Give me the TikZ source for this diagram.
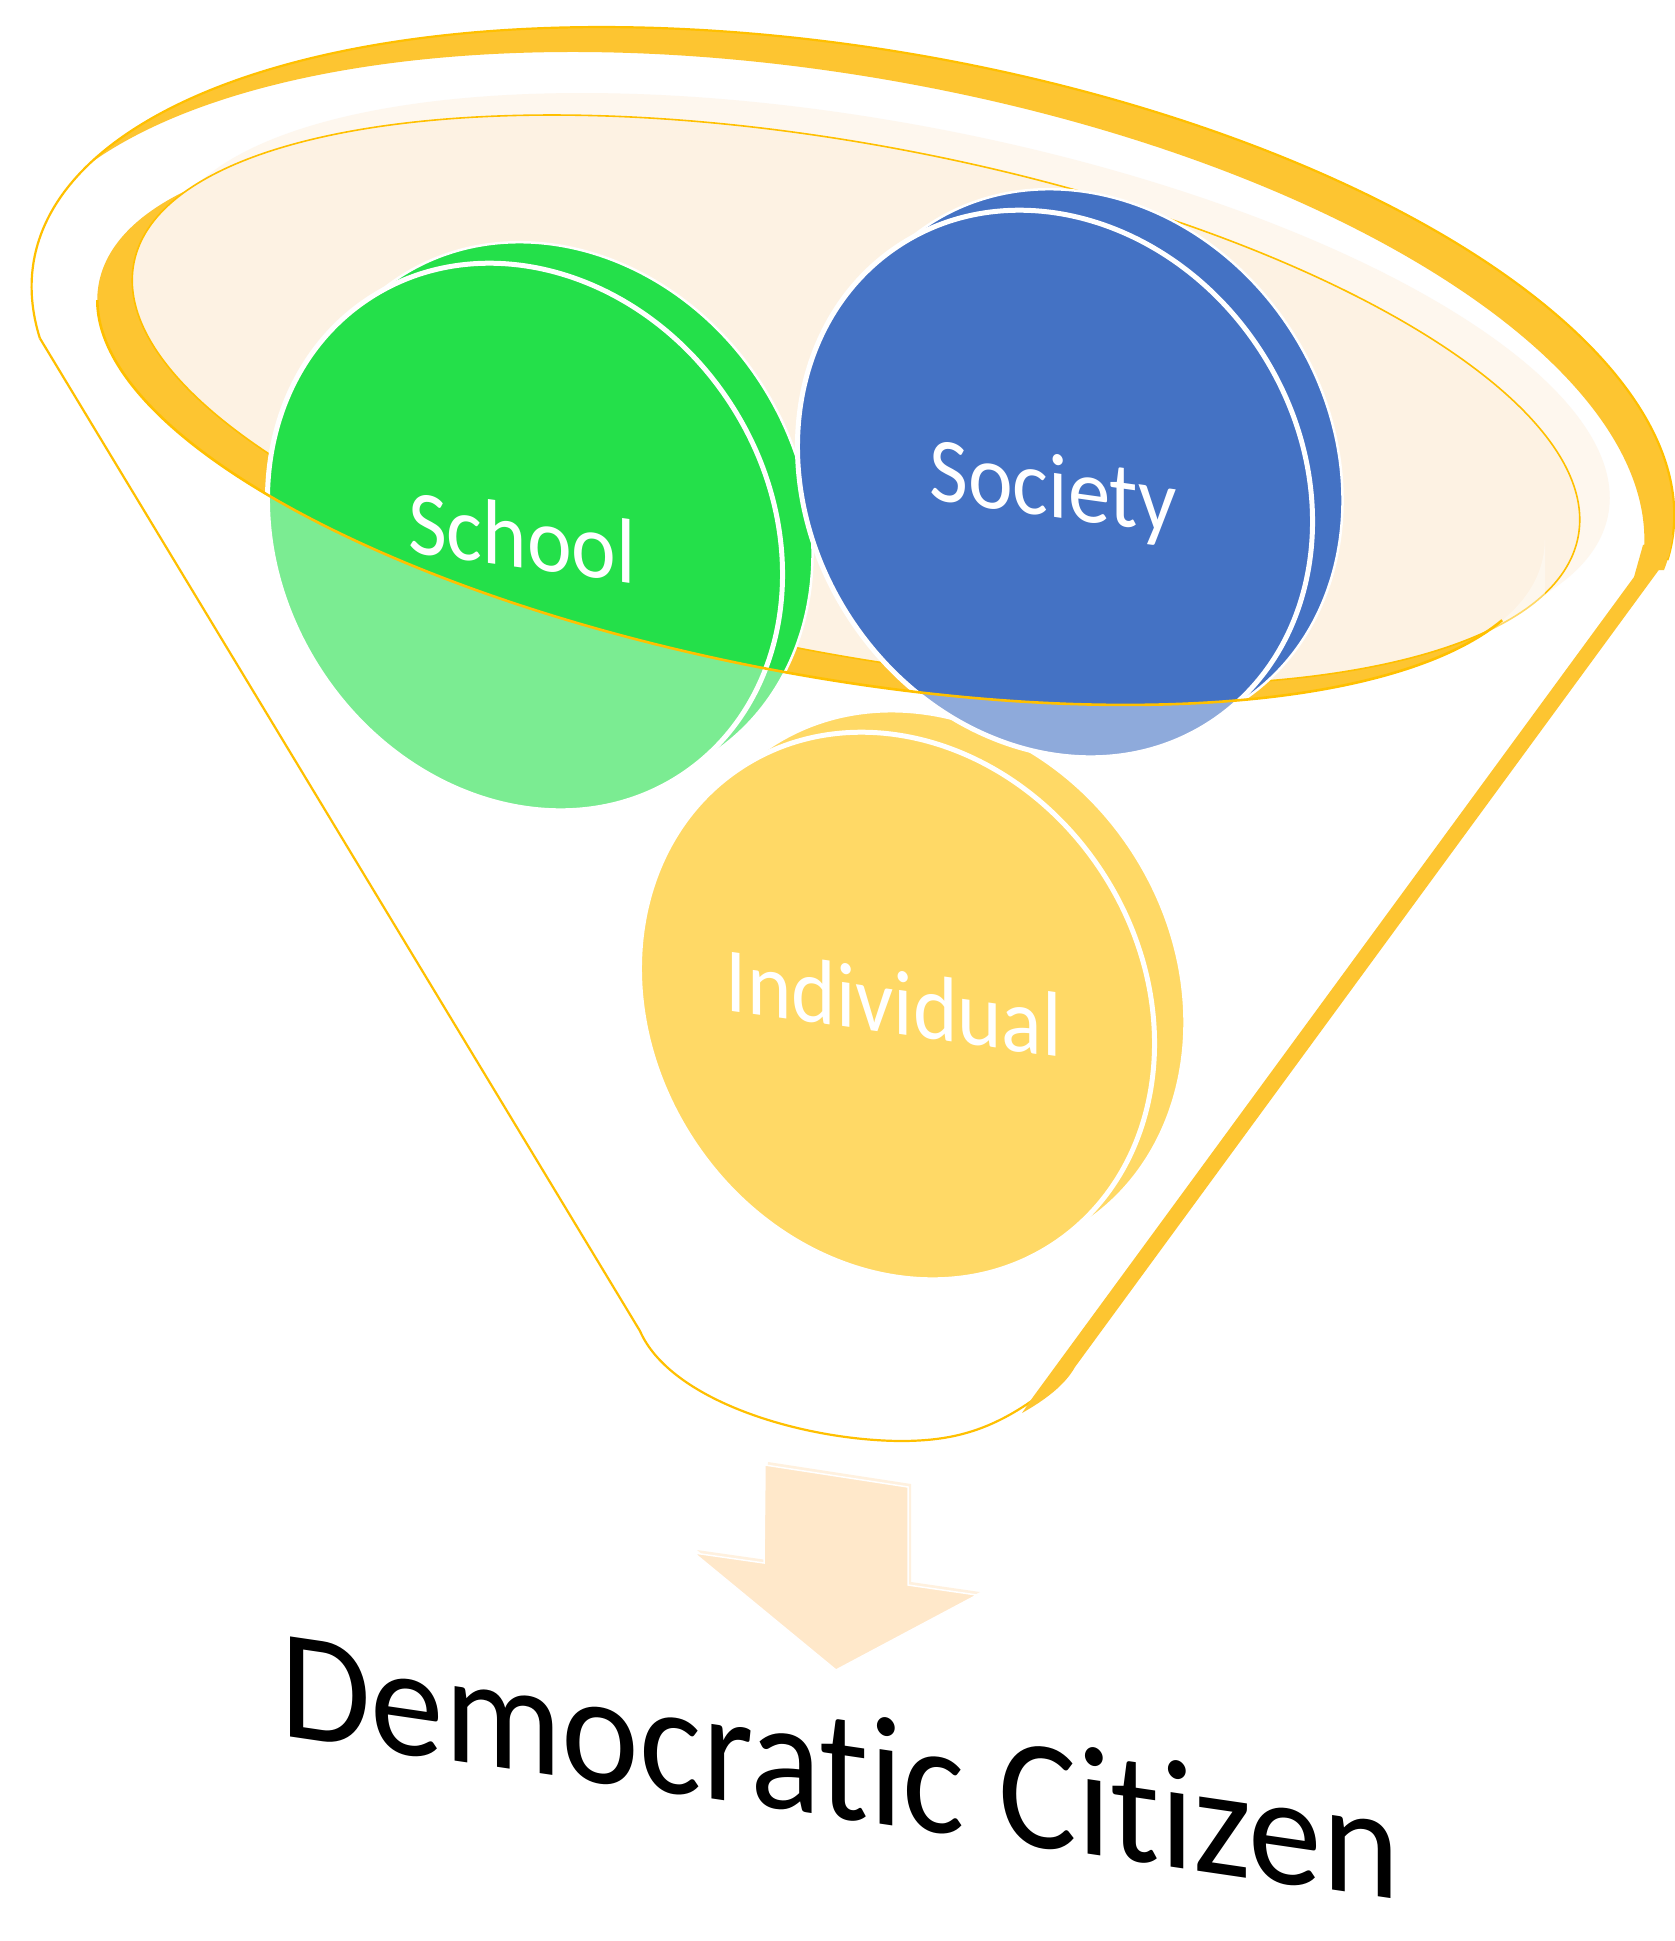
\documentclass[tikz,border=0pt]{standalone}
\usepackage{fontspec}
\setmainfont{Carlito}[Ligatures=NoCommon]
\definecolor{gold}{HTML}{FFC000}
\definecolor{bandc}{HTML}{FDC531}
\definecolor{creamc}{HTML}{FDF2E3}
\definecolor{glowc}{HTML}{FEF7EE}
\definecolor{sgreen}{HTML}{24E04A}
\definecolor{sblue}{HTML}{4472C4}
\definecolor{arrowc}{HTML}{FFE8CA}
\newcommand\mydisc[3]{%
  \begin{scope}[shift={(#1+30,#2+21)},rotate=-57]
    \fill[#3,backdisc] (0,0) ellipse[x radius=285,y radius=245];
  \end{scope}
  \begin{scope}[shift={(#1,#2)},rotate=-57]
    \fill[#3,frontdisc] (0,0) ellipse[x radius=285,y radius=245];
  \end{scope}}
\begin{document}
\begin{tikzpicture}[x=1pt,y=1pt,
  thinline/.style={draw=gold, line width=2.2},
  backdisc/.style={draw=white, line width=2.5},
  frontdisc/.style={draw=white, line width=5},
  lbl/.style={anchor=base, text=white, inner sep=0, font=\fontsize{92}{100}\selectfont, yslant=-0.14, xscale=0.92},
]
\useasboundingbox (0,0) rectangle (1675,-1941);
\fill[white] (0,0) rectangle (1675,-1941);

% outer rim band (ellipse O minus its shifted copy)
\begin{scope}
  \clip (40,-338) -- (1630,-570) -- (1675,-570) -- (1675,0) -- (0,0) -- (0,-333) -- cycle;
  \begin{scope}[shift={(823,-426)},rotate=-9.65,even odd rule]
    \clip (-3000,-3000) rectangle (3000,3000) (0,0) ellipse[x radius=831,y radius=352];
    \fill[bandc] (25.4,29.7) ellipse[x radius=831,y radius=352];
  \end{scope}
\end{scope}

% inner disc
\begin{scope}[shift={(886,-378)},rotate=-10.71]
  \fill[glowc] (0,0) ellipse[x radius=735,y radius=254.5];
\end{scope}
\begin{scope}[shift={(821,-420)},rotate=-10.71]
  \fill[bandc] (0,0) ellipse[x radius=735,y radius=254.5];
\end{scope}
\begin{scope}[shift={(856,-400)},rotate=-10.71]
  \fill[creamc, draw=gold, line width=1.6] (0,0) ellipse[x radius=735,y radius=254.5];
\end{scope}

% circles
\mydisc{897}{-1006}{gold}
\node[lbl] (individual) at (894,-1034) {Individual};
\mydisc{525}{-537}{sgreen}
\node[lbl] (school) at (522,-568) {School};
\mydisc{1055}{-484}{sblue}
\node[lbl] (society) at (1053,-517) {Society};

% front overlay of the funnel
\begin{scope}
  \clip (97,-300) -- (1545,-540) -- (1545,-1941) -- (0,-1941) -- (0,-284) -- cycle;
  \begin{scope}[shift={(821,-420)},rotate=-10.71]
    \fill[white, fill opacity=0.4, even odd rule] (-3000,-3000) rectangle (3000,3000) (0,0) ellipse[x radius=735,y radius=254.5];
  \end{scope}
\end{scope}

% front rim edge
\begin{scope}[shift={(821,-420)},rotate=-10.71]
  \draw[gold, line width=2.6] (183.75:735 and 254.5) arc[start angle=183.75,end angle=344,x radius=735,y radius=254.5];
\end{scope}

% funnel outline
\begin{scope}[shift={(853,-401)},rotate=-9.65]
  \draw[thinline] (192.2:831 and 352) coordinate (oL) arc[start angle=192.2,end angle=-3.3,x radius=831,y radius=352] coordinate (oR);
\end{scope}
\coordinate (fBL) at (640,-1331);
\coordinate (fBR) at (1040,-1395);
\coordinate (fBot) at (900,-1441);
\draw[thinline] (oL) -- (fBL) .. controls (670,-1400) and (800,-1440) .. (fBot) .. controls (950,-1441) and (990,-1432) .. (fBR);
\fill[bandc] (1673,-535) -- (1669,-556) -- (1075,-1367) .. controls (1065,-1385) and (1045,-1400) .. (1022,-1413) -- (1033,-1397) -- (1634,-577) -- (1643,-545) -- cycle;

% arrow
\begin{scope}[shift={(3,3)}]
  \fill[arrowc!60!white] (765,-1465) -- (908,-1487) -- (908,-1585) -- (977,-1595) -- (836,-1670) -- (694,-1553) -- (764,-1563) -- cycle;
\end{scope}
\fill[arrowc, draw=white, line width=1.5] (765,-1465) -- (908,-1487) -- (908,-1585) -- (977,-1595) -- (836,-1670) -- (694,-1553) -- (764,-1563) -- cycle;

% result text
\node[anchor=base, inner sep=0, font=\fontsize{156}{168}\selectfont, yslant=-0.147, xscale=0.945] (citizen) at (840,-1818) {Democratic Citizen};
\end{tikzpicture}
\end{document}
